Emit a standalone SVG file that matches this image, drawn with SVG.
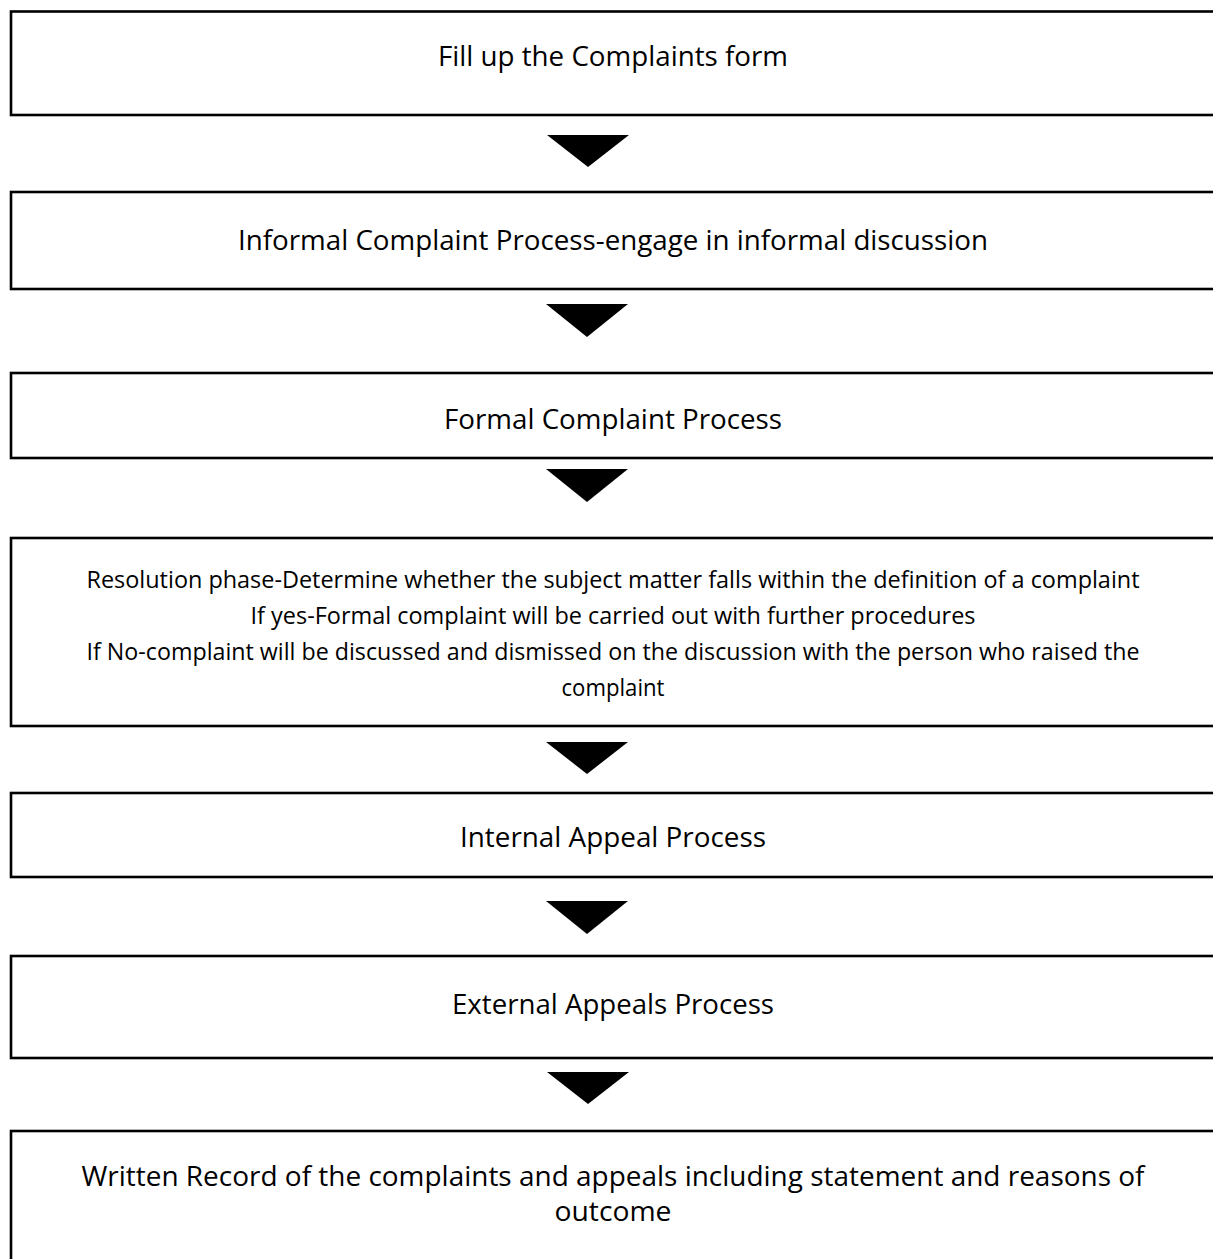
<svg xmlns="http://www.w3.org/2000/svg" width="1213" height="1259" viewBox="0 0 1213 1259">
<style>
.box{fill:#fff;stroke:#000;stroke-width:2.6}
.t{font-family:"Open Sans","Liberation Sans",sans-serif;font-size:27px;fill:#000;text-anchor:middle}
.s{font-size:23px}
.arr{fill:#000}
</style>
<rect width="1213" height="1259" fill="#fff"/>
<g id="n1"><rect class="box" x="11" y="11.5" width="1220" height="103.5"/><text class="t" x="613" y="66" textLength="350" lengthAdjust="spacingAndGlyphs">Fill up the Complaints form</text></g>
<g id="n2"><rect class="box" x="11" y="192" width="1220" height="97"/><text class="t" x="613" y="250" textLength="750" lengthAdjust="spacingAndGlyphs">Informal Complaint Process-engage in informal discussion</text></g>
<g id="n3"><rect class="box" x="11" y="373" width="1220" height="85"/><text class="t" x="613" y="429" textLength="338" lengthAdjust="spacingAndGlyphs">Formal Complaint Process</text></g>
<g id="n4"><rect class="box" x="11" y="538" width="1220" height="188"/>
<text class="t s" x="613" y="588" textLength="1053" lengthAdjust="spacingAndGlyphs">Resolution phase-Determine whether the subject matter falls within the definition of a complaint</text>
<text class="t s" x="613" y="624" textLength="725" lengthAdjust="spacingAndGlyphs">If yes-Formal complaint will be carried out with further procedures</text>
<text class="t s" x="613" y="660" textLength="1053" lengthAdjust="spacingAndGlyphs">If No-complaint will be discussed and dismissed on the discussion with the person who raised the</text>
<text class="t s" x="613" y="696" textLength="103" lengthAdjust="spacingAndGlyphs">complaint</text></g>
<g id="n5"><rect class="box" x="11" y="793" width="1220" height="84"/><text class="t" x="613" y="847" textLength="306" lengthAdjust="spacingAndGlyphs">Internal Appeal Process</text></g>
<g id="n6"><rect class="box" x="11" y="956" width="1220" height="102"/><text class="t" x="613" y="1014" textLength="322" lengthAdjust="spacingAndGlyphs">External Appeals Process</text></g>
<g id="n7"><rect class="box" x="11" y="1131" width="1220" height="140"/>
<text class="t" x="613" y="1186" textLength="1063" lengthAdjust="spacingAndGlyphs">Written Record of the complaints and appeals including statement and reasons of</text>
<text class="t" x="613" y="1221" textLength="117" lengthAdjust="spacingAndGlyphs">outcome</text></g>
<g id="connectors">
<polygon class="arr" points="547,135 629,135 588,167"/>
<polygon class="arr" points="546,304 628,304 587,337"/>
<polygon class="arr" points="546,469 628,469 587,502"/>
<polygon class="arr" points="546,742 628,742 587,774"/>
<polygon class="arr" points="546,901 628,901 587,934"/>
<polygon class="arr" points="547,1072 629,1072 588,1104"/>
</g>
</svg>
